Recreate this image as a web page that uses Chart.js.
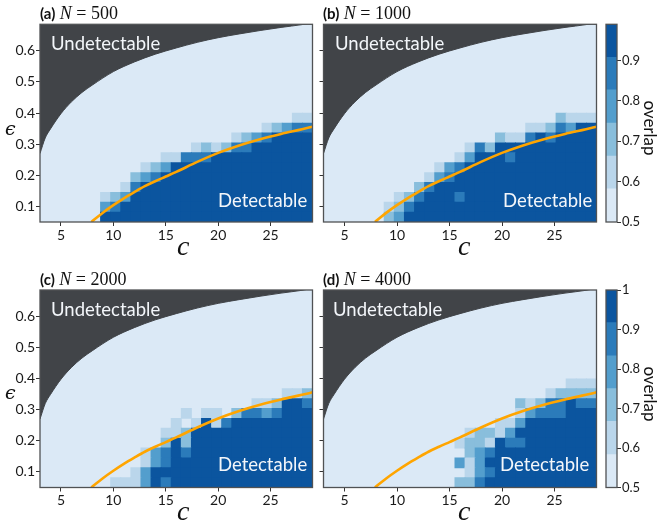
<!DOCTYPE html>
<html>
<head>
<meta charset="utf-8">
<script src="https://cdn.jsdelivr.net/npm/chart.js@4.4.1/dist/chart.umd.min.js"></script>
<style>
  html, body { margin: 0; padding: 0; background: #fff; }
  #page { position: relative; width: 657px; height: 524px; overflow: hidden; }
  canvas { position: absolute; left: 0; top: 0; }
  .txt { position: absolute; white-space: nowrap; z-index: 5; }
  .ttl { font-family: 'Liberation Serif', serif; font-size: 18px; line-height: 18px; color: #111; }
  .ttl b { font-family: Lato, sans-serif; font-size: 15px; font-weight: 700; }
  .zone { font-family: Lato, sans-serif; font-size: 18.5px; line-height: 18.5px; color: #f3f6fa; }
  .cvar { font-family: 'Liberation Serif', serif; font-style: italic; font-size: 28px; line-height: 28px; color: #111; }
  .evar { font-family: 'DejaVu Serif', serif; font-style: italic; font-size: 19px; line-height: 19px; color: #111; }
  .cbl { font-family: Lato, sans-serif; font-size: 17px; line-height: 18px; color: #111;
         transform: translate(-50%, -50%) rotate(90deg); }
</style>
</head>
<body>
<div id="page">
  <canvas id="pa" width="657" height="524"></canvas>
  <canvas id="pb" width="657" height="524"></canvas>
  <canvas id="pc" width="657" height="524"></canvas>
  <canvas id="pd" width="657" height="524"></canvas>
  <canvas id="cbb" width="657" height="524"></canvas>
  <canvas id="cbd" width="657" height="524"></canvas>

  <div class="txt ttl" style="left:40px; top:4px;"><b>(a)</b> <i>N</i> = 500</div>
  <div class="txt ttl" style="left:323px; top:4px;"><b>(b)</b> <i>N</i> = 1000</div>
  <div class="txt ttl" style="left:40px; top:270px;"><b>(c)</b> <i>N</i> = 2000</div>
  <div class="txt ttl" style="left:323px; top:270px;"><b>(d)</b> <i>N</i> = 4000</div>

  <div class="txt zone" style="left:51px; top:34px;">Undetectable</div>
  <div class="txt zone" style="left:335px; top:34px;">Undetectable</div>
  <div class="txt zone" style="left:51px; top:300px;">Undetectable</div>
  <div class="txt zone" style="left:333px; top:300px;">Undetectable</div>
  <div class="txt zone" style="left:218px; top:191px;">Detectable</div>
  <div class="txt zone" style="left:503px; top:191px;">Detectable</div>
  <div class="txt zone" style="left:218px; top:455px;">Detectable</div>
  <div class="txt zone" style="left:500px; top:455px;">Detectable</div>

  <div class="txt evar" style="left:5px; top:119px;">ϵ</div>
  <div class="txt evar" style="left:5px; top:383px;">ϵ</div>
  <div class="txt cvar" style="left:177px; top:232px;">c</div>
  <div class="txt cvar" style="left:458px; top:232px;">c</div>
  <div class="txt cvar" style="left:177px; top:497px;">c</div>
  <div class="txt cvar" style="left:458px; top:497px;">c</div>

  <div class="txt cbl" style="left:650px; top:128px;">overlap</div>
  <div class="txt cbl" style="left:650px; top:394px;">overlap</div>
</div>

<script>
// column centres (c) and row centres (epsilon) of the heat map cells
const cValues = [3.48, 4.44, 5.41, 6.37, 7.33, 8.30, 9.26, 10.22, 11.19, 12.15, 13.11, 14.07, 15.04, 16.00,
                 16.96, 17.93, 18.89, 19.85, 20.81, 21.78, 22.74, 23.70, 24.67, 25.63, 26.59, 27.56, 28.52];
const epsValues = [0.0659, 0.0976, 0.1294, 0.1611, 0.1929, 0.2246, 0.2564, 0.2881, 0.3199, 0.3516, 0.3834, 0.4151];

// overlap level per cell (0 = 0.5 ... 5 = top band), rows listed top to bottom
const gridA = [
  '000000000 000000000 000000000',
  '000000000 000000000 000000011',
  '000000000 000000000 000012344',
  '000000000 000000000 012345555',
  '000000000 000000121 244555555',
  '000000000 000114445 555555555',
  '000000000 012355555 555555555',
  '000000000 234555555 555555555',
  '000000001 455555555 555555555',
  '000000123 555555555 555555555',
  '000000345 555555555 555555555',
  '000000555 555555555 555555555'
];
const gridB = [
  '000000000 000000000 000000000',
  '000000000 000000000 000002111',
  '000000000 000000000 001124355',
  '000000000 000000002 114545555',
  '000000000 000001425 555555555',
  '000000000 000013555 455555555',
  '000000000 001345555 555555555',
  '000000000 013455555 555555555',
  '000000000 245555555 555555555',
  '000000012 455545555 555555555',
  '000000124 555555555 555555555',
  '000000235 555555555 555555555'
];
const gridC = [
  '000000000 000000000 000000000',
  '000000000 000000000 000000000',
  '000000000 000000000 000000112',
  '000000000 000000000 000112554',
  '000000000 000001011 024434555',
  '000000000 000010151 455555555',
  '000000000 000112555 555555555',
  '000000000 000252555 555555555',
  '000000000 013454555 555555555',
  '000000000 013455555 555555555',
  '000000000 135555555 555555555',
  '000000011 135455555 555555555'
];
const gridD = [
  '000000000 000000000 000000000',
  '000000000 000000000 000000111',
  '000000000 000000000 000012222',
  '000000000 000000000 021244544',
  '000000000 000000000 013444555',
  '000000000 000000001 135555555',
  '000000000 000001221 355555555',
  '000000000 000012215 445555555',
  '000000000 000002345 555555555',
  '000000000 000031355 555555555',
  '000000000 000001345 555555555',
  '000000000 000022455 555555555'
];

// undetectable boundary
const boundaryC   = [3, 3.5, 4, 5, 6, 7, 8, 10, 12, 14, 16, 18, 20, 22, 24, 26, 28, 29];
const boundaryEps = [0.27, 0.32, 0.349, 0.398, 0.436, 0.466, 0.49, 0.533, 0.564, 0.589, 0.609, 0.627,
                     0.642, 0.654, 0.665, 0.675, 0.684, 0.69];
// orange critical curve
const criticalC   = [7.9, 9, 10, 11, 12, 13, 14, 15, 16, 18, 20, 22, 24, 26, 28, 29];
const criticalEps = [0.05, 0.08, 0.104, 0.126, 0.146, 0.165, 0.181, 0.196, 0.211, 0.243, 0.272, 0.296,
                     0.316, 0.333, 0.348, 0.356];

const xTicks = [5, 10, 15, 20, 25];
const yTicks = [0.1, 0.2, 0.3, 0.4, 0.5, 0.6];
const cbEdgesB = [0.5, 0.582, 0.663, 0.745, 0.827, 0.908, 0.99];
const cbEdgesD = [0.5, 0.583, 0.667, 0.75, 0.833, 0.917, 1.0];
const cbTicksB = [0.5, 0.6, 0.7, 0.8, 0.9];
const cbTicksD = [0.5, 0.6, 0.7, 0.8, 0.9, 1];

const levelColors = ['#dbe9f6', '#bad6eb', '#89bedc', '#539ecd', '#2b7bba', '#0b559f'];
const darkGray = '#414448';
const orange = '#ffa500';
const inkColor = '#1a1a1a';

Chart.defaults.font.family = "Lato, 'Open Sans', sans-serif";
Chart.defaults.font.size = 14;
Chart.defaults.color = inkColor;
Chart.defaults.datasets.bar.barPercentage = 1;
Chart.defaults.datasets.bar.categoryPercentage = 1;

// light background inside the plot, and the box around it
const areaBg = {
  id: 'areaBg',
  beforeDatasetsDraw(chart) {
    const a = chart.chartArea, ctx = chart.ctx;
    ctx.save();
    ctx.fillStyle = levelColors[0];
    ctx.fillRect(a.left, a.top, a.right - a.left, a.bottom - a.top);
    ctx.restore();
  }
};
const frame = {
  id: 'frame',
  afterDraw(chart) {
    const a = chart.chartArea, ctx = chart.ctx;
    ctx.save();
    ctx.strokeStyle = '#505254';
    ctx.lineWidth = 1.3;
    ctx.strokeRect(a.left, a.top, a.right - a.left, a.bottom - a.top);
    ctx.restore();
  }
};

function heatCells(grid) {
  const cells = [];
  const step = epsValues[1] - epsValues[0];
  grid.forEach((row, i) => {
    const r = grid.length - 1 - i;
    const levels = row.replace(/ /g, '');
    for (let k = 0; k < levels.length; k++) {
      const lv = +levels[k];
      if (lv > 0) {
        cells.push({ x: String(cValues[k]), y: [epsValues[r] - step / 2, epsValues[r] + step / 2], level: lv });
      }
    }
  });
  return cells;
}

function drawPanel(id, grid, box, showLabels) {
  const yw = showLabels ? 36 : 6;
  new Chart(document.getElementById(id), {
    type: 'bar',
    data: {
      labels: cValues.map(String),
      datasets: [
        {
          type: 'line',
          data: criticalC.map((c, i) => ({ x: c, y: criticalEps[i] })),
          xAxisID: 'xc', yAxisID: 'y',
          borderColor: orange, borderWidth: 2.6,
          pointRadius: 0, cubicInterpolationMode: 'monotone', fill: false,
          order: 0
        },
        {
          type: 'line',
          data: boundaryC.map((c, i) => ({ x: c, y: boundaryEps[i] })),
          xAxisID: 'xc', yAxisID: 'y',
          borderColor: darkGray, backgroundColor: darkGray, borderWidth: 1,
          pointRadius: 0, cubicInterpolationMode: 'monotone', fill: 'end',
          order: 1
        },
        {
          type: 'bar',
          data: heatCells(grid),
          xAxisID: 'x', yAxisID: 'y',
          backgroundColor: ctx => levelColors[ctx.raw ? ctx.raw.level : 0],
          grouped: false, barPercentage: 1, categoryPercentage: 1,
          borderWidth: 0, inflateAmount: 0.45,
          order: 2
        }
      ]
    },
    options: {
      responsive: false,
      animation: false,
      events: [],
      layout: { padding: { left: box.l - yw, top: box.t, right: 657 - box.r, bottom: 524 - box.b - 20 } },
      plugins: { legend: { display: false }, tooltip: { enabled: false } },
      scales: {
        x: { type: 'category', display: false, offset: true },
        xc: {
          type: 'linear', position: 'bottom', min: 3, max: 29, offset: false,
          afterBuildTicks: s => { s.ticks = xTicks.map(v => ({ value: v })); },
          afterFit: s => { s.height = 20; },
          grid: { offset: false, drawOnChartArea: false, tickLength: 4, color: '#333' },
          border: { display: false },
          ticks: { padding: 1, maxRotation: 0 }
        },
        y: {
          type: 'linear', position: 'left', min: 0.05, max: 0.685,
          afterBuildTicks: s => { s.ticks = yTicks.map(v => ({ value: v })); },
          afterFit: s => { s.width = yw; },
          grid: { drawOnChartArea: false, tickLength: 4, color: '#333' },
          border: { display: false },
          ticks: { padding: 1, callback: v => showLabels ? v.toFixed(1) : '' }
        }
      }
    },
    plugins: [areaBg, frame]
  });
}

function drawColorbar(id, edges, ticks, box) {
  new Chart(document.getElementById(id), {
    type: 'bar',
    data: {
      labels: ['overlap'],
      datasets: levelColors.map((col, i) => ({
        data: [[edges[i], edges[i + 1]]],
        backgroundColor: col,
        grouped: false, barPercentage: 1, categoryPercentage: 1,
        borderWidth: 0, inflateAmount: 0.45
      }))
    },
    options: {
      responsive: false,
      animation: false,
      events: [],
      layout: { padding: { left: box.l, top: box.t, right: 657 - box.r - 34, bottom: 524 - box.b } },
      plugins: { legend: { display: false }, tooltip: { enabled: false } },
      scales: {
        x: { type: 'category', display: false, offset: true },
        y: {
          type: 'linear', position: 'right', min: edges[0], max: edges[edges.length - 1],
          afterBuildTicks: s => { s.ticks = ticks.map(v => ({ value: v })); },
          afterFit: s => { s.width = 34; },
          grid: { drawOnChartArea: false, tickLength: 4, color: '#333' },
          border: { display: false },
          ticks: { padding: 1, font: { size: 13 }, callback: v => String(v) }
        }
      }
    },
    plugins: [frame]
  });
}

drawPanel('pa', gridA, { l: 40, t: 24.3, r: 312.5, b: 222 }, true);
drawPanel('pb', gridB, { l: 323.5, t: 24.3, r: 596.5, b: 222 }, false);
drawPanel('pc', gridC, { l: 40, t: 290, r: 312.5, b: 487.5 }, true);
drawPanel('pd', gridD, { l: 323.5, t: 290, r: 596.5, b: 487.5 }, false);
drawColorbar('cbb', cbEdgesB, cbTicksB, { l: 606, t: 24.3, r: 617, b: 222 });
drawColorbar('cbd', cbEdgesD, cbTicksD, { l: 606, t: 290, r: 617, b: 487.5 });
</script>
</body>
</html>
